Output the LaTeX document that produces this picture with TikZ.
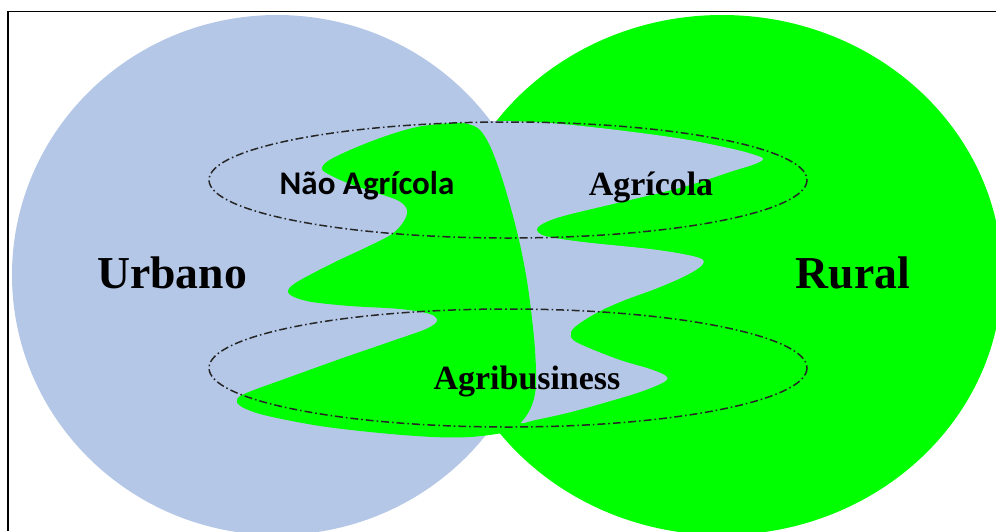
\documentclass[tikz,border=0pt]{standalone}
\usepackage{fontspec}
\setmainfont{Liberation Serif}
\newfontfamily\calibri{Carlito}
\usetikzlibrary{positioning}
\definecolor{urbanblue}{RGB}{180,199,231}
\definecolor{ruralgreen}{RGB}{0,255,0}

\begin{document}
\begin{tikzpicture}[x=0.02cm,y=-0.02cm,
band/.style={draw=black!85,line width=0.85pt,dash pattern=on 4.5pt off 1.7pt on 0.9pt off 1.7pt},
bigword/.style={font=\fontsize{26}{26}\selectfont\bfseries,anchor=base,inner sep=0pt},
midword/.style={font=\fontsize{19.3}{19.3}\selectfont\bfseries,anchor=base,inner sep=0pt}]
\useasboundingbox (0,0) rectangle (996,531);
% the two worlds
\fill[urbanblue] (277,275) ellipse [x radius=265, y radius=260];
\fill[ruralgreen] (722,275) ellipse [x radius=280, y radius=260];
% blue tongues reaching into the rural side
\fill[urbanblue] plot[smooth cycle,tension=0.55] coordinates {
(466,126) (478,123) (497,121) (550,123) (617,130) (683,139) (733,149) (755,155) (763,159)
(755,164) (733,171) (683,187) (617,203) (567,215) (546,222) (537,229) (545,236) (583,242)
(650,249) (688,255) (703,260) (700,267) (683,277) (655,289) (625,300) (600,311) (580,323)
(571,332) (576,342) (617,359) (650,369) (666,376) (664,382) (640,392) (600,404) (567,413)
(535,420) (520,422) (526,400) (526,350) (522,310) (516,275) (510,240) (500,205) (490,172)
(478,146) (468,134)};
% green tongues reaching into the urban side
\fill[ruralgreen] plot[smooth cycle,tension=0.55] coordinates {
(452,123) (468,124) (480,130) (490,146) (500,172) (510,205) (519,240) (526,275) (531,310)
(535,350) (536,385) (532,405) (524,419) (514,428) (502,433) (470,437) (433,437) (380,433)
(320,426) (268,416) (246,409) (237,402) (244,394) (290,377) (340,359) (395,340) (426,329)
(437,321) (430,314) (400,309) (350,306) (312,302) (294,297) (288,291) (297,282) (333,263)
(367,247) (392,234) (404,221) (407,210) (399,201) (377,193) (350,184) (330,175) (322,169)
(328,161) (350,150) (383,137) (417,127)};
% activity bands
\draw[band] (508,180) ellipse [x radius=299, y radius=58];
\draw[band] (508,368) ellipse [x radius=299, y radius=59];
% frame
\draw[line width=1.1pt] (8,531) -- (8,11.5) -- (996,11.5);
% labels
\node[bigword] (urb) at (172,288) {Urbano};
\node[bigword] (rur) at (853,288) {Rural};
\node[anchor=base,inner sep=0pt,font=\calibri\bfseries\fontsize{18.8}{18.8}\selectfont] (nagr) at (367,194) {Não Agrícola};
\node[midword] (agr) at (651,195) {Agrícola};
\node[midword] (agb) at (527,389) {Agribusiness};
\end{tikzpicture}
\end{document}
